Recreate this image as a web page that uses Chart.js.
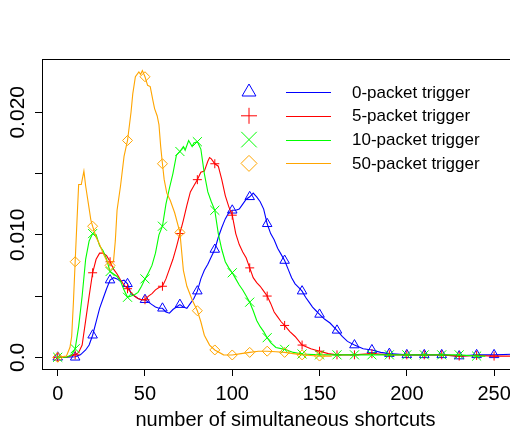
<!DOCTYPE html>
<html><head><meta charset="utf-8">
<script src="https://cdn.jsdelivr.net/npm/chart.js@4/dist/chart.umd.min.js"></script>
<style>
html,body{margin:0;padding:0;background:#fff;overflow:hidden;}
#wrap{width:510px;height:430px;overflow:hidden;position:relative;background:#fff;}
canvas{display:block;}
</style></head><body>
<div id="wrap"><canvas id="c" width="540" height="450" style="width:540px;height:450px"></canvas></div>
<script>
// ---- data ----
const seriesNames = ['0-packet trigger', '5-packet trigger', '10-packet trigger', '50-packet trigger'];
const xTicks = [0, 50, 100, 150, 200, 250];
const xTickLabels = ['0', '50', '100', '150', '200', '250'];
const yTicks = [0, 0.005, 0.010, 0.015, 0.020];
const yTickLabels = ['0.0', '', '0.010', '', '0.020'];
const xTitle = 'number of simultaneous shortcuts';

// 0-packet trigger (blue)
const blueX = [0,5,10,13,16,18,20,22,24,26,28,30,32,34,36,38,40,42,44,46,48,50,52,54,56,58,60,62,64,66,68,70,72,74,76,78,80,82,84,86,88,90,92,94,96,98,100,102,104,106,108,110,112,114,116,118,120,122,124,126,128,130,132,134,136,138,140,142,144,146,148,150,153,156,160,163,166,170,175,180,185,190,200,210,220,230,240,250,260,270];
const blueY = [0,0,0.00005,0.0002,0.0006,0.0010,0.0018,0.0029,0.0040,0.0048,0.0056,0.0063,0.0065,0.0064,0.0062,0.0063,0.0060,0.0052,0.0050,0.0048,0.0047,0.0047,0.0045,0.0043,0.0041,0.0040,0.0040,0.0037,0.0036,0.0039,0.0041,0.0043,0.0041,0.0040,0.0044,0.0048,0.0054,0.0064,0.0071,0.0076,0.0082,0.0088,0.0098,0.0106,0.0113,0.0118,0.0120,0.0120,0.0121,0.0125,0.0129,0.0131,0.0134,0.0131,0.0127,0.0121,0.0109,0.0101,0.0096,0.0089,0.0084,0.0079,0.0072,0.0065,0.0060,0.0057,0.0054,0.0049,0.0045,0.0041,0.0038,0.0035,0.0031,0.0028,0.0022,0.0017,0.0013,0.0010,0.0007,0.0006,0.0004,0.0003,0.0002,0.0002,0.0002,0.0001,0.0002,0.0002,0.00025,0.00025];
const blueMarkX = [0,10,20,30,40,50,60,70,80,90,100,110,120,130,140,150,160,170,180,190,200,210,220,230,240,250];
const blueMarkY = [0,0,0.0018,0.0063,0.0060,0.0047,0.0040,0.0043,0.0054,0.0088,0.0120,0.0131,0.0109,0.0079,0.0054,0.0035,0.0022,0.0010,0.0006,0.0003,0.0002,0.0002,0.0002,0.0001,0.0002,0.0002];

// 5-packet trigger (red)
const redX = [0,5,10,12,14,16,18,20,22,24,26,28,30,32,34,36,38,40,42,44,46,48,50,52,54,56,58,60,62,64,66,68,70,72,74,76,78,80,82,84,86,87,88,90,92,94,96,98,100,102,104,106,108,110,112,114,116,118,120,122,124,126,128,130,133,136,140,145,150,155,160,170,180,190,200,210,220,230,240,250,260,270];
const redY = [0,0,0.0002,0.0004,0.0010,0.0030,0.0050,0.0069,0.0080,0.0085,0.0085,0.0083,0.0078,0.0072,0.0068,0.0063,0.0059,0.0056,0.0053,0.0050,0.0048,0.0047,0.0047,0.0050,0.0052,0.0055,0.0057,0.0058,0.0064,0.0072,0.0080,0.0090,0.0101,0.0112,0.0124,0.0135,0.0140,0.0145,0.0151,0.0152,0.0160,0.0163,0.0162,0.0158,0.0156,0.0145,0.0132,0.0123,0.0116,0.0101,0.0092,0.0086,0.0081,0.0073,0.0065,0.0061,0.0058,0.0054,0.0050,0.0044,0.0037,0.0033,0.0029,0.0026,0.0021,0.0017,0.0010,0.0007,0.0005,0.0003,0.0002,0.0002,0.0003,0.0002,0.0002,0.0002,0.0002,0.0001,0.00015,0.0001,0.0001,0.0001];
const redMarkX = [0,10,20,30,40,50,60,70,80,90,100,110,120,130,140,150,160,170,180,190,200,210,220,230,240,250];
const redMarkY = [0,0.0002,0.0069,0.0078,0.0056,0.0047,0.0058,0.0101,0.0145,0.0158,0.0116,0.0073,0.0050,0.0026,0.0010,0.0005,0.0002,0.0002,0.0003,0.0002,0.0002,0.0002,0.0002,0.0001,0.00015,0.0001];

// 10-packet trigger (green)
const greenX = [0,5,8,10,12,14,16,18,20,22,24,26,28,30,32,34,36,38,40,42,44,46,48,50,52,54,56,58,60,62,64,66,68,70,72,73,75,77,78,80,82,84,86,88,90,92,94,96,98,100,102,104,106,108,110,112,114,116,118,120,122,125,130,135,140,150,160,170,180,190,200,210,220,230,240,245];
const greenY = [0,0,0.0002,0.0007,0.0025,0.0050,0.0080,0.0095,0.0101,0.0100,0.0091,0.0087,0.0080,0.0070,0.0068,0.0066,0.0062,0.0055,0.0049,0.0050,0.0051,0.0053,0.0058,0.0064,0.0069,0.0075,0.0085,0.0100,0.0107,0.0125,0.0138,0.0150,0.0165,0.0168,0.0172,0.0169,0.0177,0.0172,0.0175,0.0176,0.0170,0.0150,0.0135,0.0127,0.0120,0.0101,0.0088,0.0078,0.0073,0.0069,0.0064,0.0059,0.0055,0.0050,0.0045,0.0038,0.0030,0.0025,0.0021,0.0016,0.0012,0.0008,0.00065,0.0004,0.00027,0.0002,0.0002,0.0002,0.0002,0.0002,0.0002,0.0002,0.0002,0.0002,0.0001,0.0001];
const greenMarkX = [0,10,20,30,40,50,60,70,80,90,100,110,120,130,140,150,160,170,180,190,200,210,220,230,240];
const greenMarkY = [0,0.0007,0.0101,0.0070,0.0049,0.0064,0.0107,0.0168,0.0176,0.0120,0.0069,0.0045,0.0016,0.00065,0.00027,0.0002,0.0002,0.0002,0.0002,0.0002,0.0002,0.0002,0.0002,0.0002,0.0001];

// 50-packet trigger (orange)
const orangeX = [0,5,7,8,9,10,11,12,13.5,15,16,17.5,19,20,22,24,26,28,30,32,33,34,36,38,40,42,43,44.5,46.5,47.5,48.5,50,51.5,53,54.5,55.5,57,58,59,60,61,62.5,64.5,67,70,72,74,77,80,82,84,87,90,95,100,105,110,115,120,125,130,135,140,145,150,157];
const orangeY = [0,0.0001,0.0008,0.0017,0.0045,0.0078,0.0110,0.0141,0.0141,0.0152,0.0140,0.0126,0.0112,0.0107,0.0098,0.0092,0.0085,0.0079,0.0075,0.0079,0.0095,0.0120,0.0140,0.0164,0.0177,0.0200,0.0215,0.0229,0.0233,0.0231,0.0234,0.0229,0.0222,0.0221,0.0210,0.0203,0.0197,0.0190,0.0172,0.0158,0.0145,0.0134,0.0128,0.0118,0.0102,0.0071,0.0058,0.0047,0.0038,0.0029,0.0018,0.0010,0.0006,0.0002,0.00019,0.0003,0.0004,0.0005,0.0005,0.00045,0.0004,0.0003,0.0002,0.00015,0.0001,0.0001];
const orangeMarkX = [0,10,20,30,40,50,60,70,80,90,100,110,120,130,140,150];
const orangeMarkY = [0,0.0078,0.0107,0.0075,0.0177,0.0229,0.0158,0.0102,0.0038,0.0006,0.00019,0.0004,0.0005,0.0004,0.0002,0.0001];

// ---- styles ----
const colors = ['#0000FF', '#FF0000', '#00FF00', '#FFA500'];
const styles = ['triangle', 'cross', 'crossRot', 'rectRot'];
const markRadius = [5.5, 4.5, 6.4, 5];
const legendRadius = [8, 8, 11, 8];
const FONT = '"Liberation Sans", Arial, Helvetica, sans-serif';

const pts = (xs, ys) => xs.map((x, i) => ({x: x, y: ys[i]}));
const lineSets = [[blueX, blueY], [redX, redY], [greenX, greenY], [orangeX, orangeY]];
const markSets = [[blueMarkX, blueMarkY], [redMarkX, redMarkY], [greenMarkX, greenMarkY], [orangeMarkX, orangeMarkY]];

const datasets = [];
for (let i = 0; i < 4; i++) {
  datasets.push({
    label: seriesNames[i],
    data: pts(lineSets[i][0], lineSets[i][1]),
    showLine: true,
    borderColor: colors[i], borderWidth: 1.1, pointRadius: 0, pointHoverRadius: 0, tension: 0,
    fill: false, order: 10 - 2 * i
  });
  datasets.push({
    label: seriesNames[i] + ' markers',
    data: pts(markSets[i][0], markSets[i][1]),
    showLine: false, borderColor: colors[i], backgroundColor: 'rgba(0,0,0,0)',
    pointStyle: styles[i], pointRadius: markRadius[i], pointBorderWidth: 1,
    pointBorderColor: colors[i], pointBackgroundColor: 'rgba(0,0,0,0)',
    order: 9 - 2 * i
  });
}

const boxPlugin = {
  id: 'rbox',
  afterDraw(chart) {
    const a = chart.chartArea, ctx = chart.ctx;
    ctx.save();
    ctx.strokeStyle = '#000'; ctx.lineWidth = 1;
    ctx.strokeRect(Math.round(a.left) + 0.5, Math.round(a.top) + 0.5, Math.round(a.right - a.left), Math.round(a.bottom - a.top));
    ctx.restore();
  }
};

const legendPlugin = {
  id: 'rlegend',
  afterDraw(chart) {
    const ctx = chart.ctx;
    ctx.save();
    for (let i = 0; i < 4; i++) {
      const y = 92 + i * 23.8;
      ctx.strokeStyle = colors[i];
      ctx.fillStyle = 'rgba(0,0,0,0)';
      ctx.lineWidth = 1;
      Chart.helpers.drawPoint(ctx, {pointStyle: styles[i], radius: legendRadius[i], borderWidth: 1, rotation: 0}, 249, y);
      ctx.strokeStyle = colors[i];
      ctx.lineWidth = 1.2;
      ctx.beginPath();
      ctx.moveTo(286, Math.round(y) + 0.5);
      ctx.lineTo(331, Math.round(y) + 0.5);
      ctx.stroke();
      ctx.fillStyle = '#000';
      ctx.font = '17px ' + FONT;
      ctx.textAlign = 'left';
      ctx.textBaseline = 'middle';
      ctx.fillText(seriesNames[i], 352, y + 1);
    }
    ctx.restore();
  }
};

new Chart(document.getElementById('c'), {
  type: 'scatter',
  data: {datasets: datasets},
  options: {
    responsive: false, animation: false, devicePixelRatio: 1,
    layout: {padding: {top: 59, right: 11, left: 0, bottom: 0}},
    plugins: {legend: {display: false}, tooltip: {enabled: false}, title: {display: false}},
    scales: {
      x: {
        type: 'linear', position: 'bottom', min: -9, max: 270,
        afterBuildTicks: (s) => { s.ticks = xTicks.map(v => ({value: v})); },
        afterFit: (s) => { s.height = 81; },
        grid: {drawOnChartArea: false, drawTicks: true, tickLength: 7, tickColor: '#000', color: '#000'},
        border: {display: true, color: '#000', width: 1},
        ticks: {autoSkip: false, maxRotation: 0, minRotation: 0, padding: 6, color: '#000',
                font: {family: FONT, size: 20},
                callback: (v, i) => xTickLabels[i]},
        title: {display: true, text: xTitle, color: '#000', font: {family: FONT, size: 20}, padding: {top: 0, bottom: 17.5}}
      },
      y: {
        type: 'linear', position: 'left', min: -0.000955, max: 0.02435,
        afterBuildTicks: (s) => { s.ticks = yTicks.map(v => ({value: v})); },
        afterFit: (s) => { s.width = 42; },
        grid: {drawOnChartArea: false, drawTicks: true, tickLength: 7, tickColor: '#000', color: '#000'},
        border: {display: true, color: '#000', width: 1},
        ticks: {autoSkip: false, minRotation: 90, maxRotation: 90, crossAlign: 'center', padding: -9.3, color: '#000',
                font: {family: FONT, size: 21},
                callback: (v, i) => yTickLabels[i]}
      }
    }
  },
  plugins: [boxPlugin, legendPlugin]
});
</script>
</body></html>
